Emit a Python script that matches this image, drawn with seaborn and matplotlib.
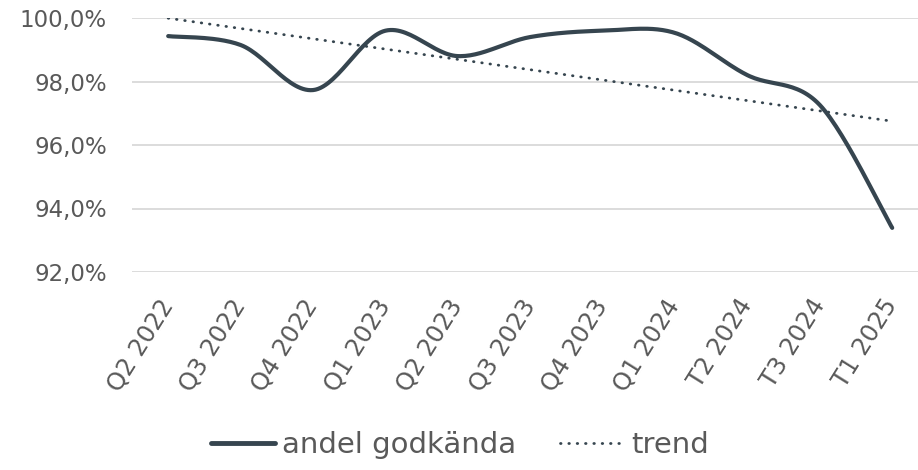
import numpy as np
import seaborn as sns
import matplotlib.pyplot as plt
from matplotlib.ticker import FuncFormatter
from matplotlib.lines import Line2D

quarters = ['Q2 2022', 'Q3 2022', 'Q4 2022', 'Q1 2023', 'Q2 2023', 'Q3 2023',
            'Q4 2023', 'Q1 2024', 'T2 2024', 'T3 2024', 'T1 2025']
andel_godkanda = [99.43, 99.15, 97.73, 99.60, 98.80, 99.40,
                  99.60, 99.53, 98.20, 97.26, 93.39]
y_ticks = [92, 94, 96, 98, 100]

LINE = '#36454F'
TEXT = '#595959'
GRID = '#D9D9D9'
DOTS = (0, (0.2, 2.8))


def smooth(xv, yv, n=30):
    """Excel-style smoothed line: cubic Bezier with Catmull-Rom tangents."""
    p = np.column_stack([xv, yv]).astype(float)
    out = []
    for i in range(len(p) - 1):
        p0 = p[max(i - 1, 0)]
        p1 = p[i]
        p2 = p[i + 1]
        p3 = p[min(i + 2, len(p) - 1)]
        c1 = p1 + (p2 - p0) / 6
        c2 = p2 - (p3 - p1) / 6
        t = np.linspace(0, 1, n)[:, None]
        seg = ((1 - t) ** 3 * p1 + 3 * (1 - t) ** 2 * t * c1
               + 3 * (1 - t) * t ** 2 * c2 + t ** 3 * p2)
        out.append(seg if i == 0 else seg[1:])
    out = np.vstack(out)
    return out[:, 0], out[:, 1]


sns.set_theme(style="whitegrid")
plt.rcParams['font.family'] = ['DejaVu Sans']

fig = plt.figure(figsize=(9.18, 4.70), dpi=100)
W, H = 918, 470
ax = fig.add_axes([132 / W, (H - 272) / H, (W - 132) / W, 254 / H])

x = np.arange(len(quarters))
sx, sy = smooth(x, andel_godkanda)
sns.lineplot(x=sx, y=sy, sort=False, ax=ax, color=LINE, linewidth=3.0,
             solid_capstyle='round', zorder=3)

# linear trend
k, m = np.polyfit(x, andel_godkanda, 1)
sns.lineplot(x=x, y=k * x + m, ax=ax, color=LINE, linewidth=2.0,
             linestyle=DOTS, dash_capstyle='round', zorder=2)

spacing = 72.4
ax.set_xlim(-0.5, -0.5 + (W - 132) / spacing)
ax.set_ylim(92, 100)
ax.set_yticks(y_ticks)
ax.yaxis.set_major_formatter(FuncFormatter(lambda v, p: f'{v:.1f}%'.replace('.', ',')))
ax.set_xticks(x)
ax.set_xticklabels(quarters)

ax.grid(axis='y', color=GRID, linewidth=1.3)
ax.grid(axis='x', visible=False)
for s in ax.spines.values():
    s.set_visible(False)
ax.tick_params(axis='y', labelsize=16.5, labelcolor=TEXT, pad=18, length=0)
ax.tick_params(axis='x', labelsize=17.5, labelcolor=TEXT, pad=21, length=0)

for lab in ax.get_xticklabels():
    lab.set_rotation(58)
    lab.set_rotation_mode('anchor')
    lab.set_ha('right')
    lab.set_va('center')

handles = [Line2D([], [], color=LINE, linewidth=3.5, solid_capstyle='round'),
           Line2D([], [], color=LINE, linewidth=2.0, linestyle=DOTS,
                  dash_capstyle='round')]
leg = fig.legend(handles, ['andel godkända', 'trend'], loc='center',
                 bbox_to_anchor=(460 / W, (H - 445) / H), ncol=2, frameon=False,
                 fontsize=21, handlelength=2.2, handletextpad=0.25,
                 columnspacing=1.5)
for t in leg.get_texts():
    t.set_color(TEXT)

fig.savefig('out.png', dpi=100, facecolor='white')
